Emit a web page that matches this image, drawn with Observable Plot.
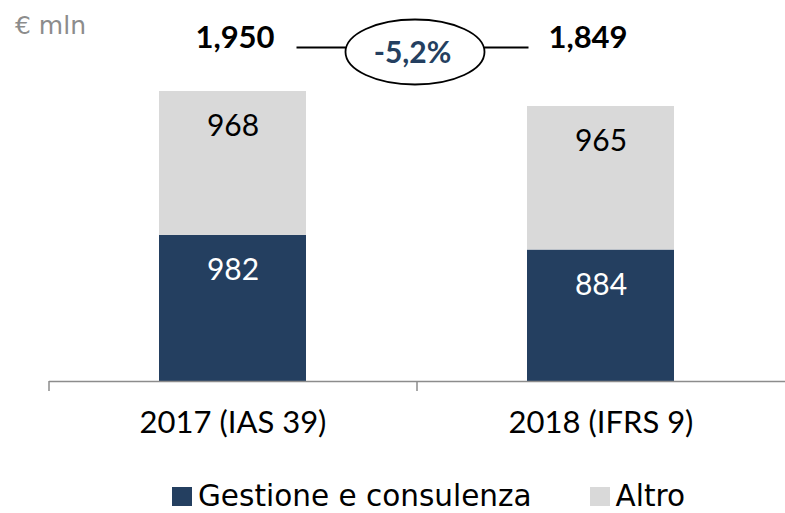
<!DOCTYPE html>
<html>
<head>
<meta charset="utf-8">
<script src="https://cdn.jsdelivr.net/npm/d3@7"></script>
<script src="https://cdn.jsdelivr.net/npm/@observablehq/plot@0.6"></script>
<style>
  html, body { margin: 0; padding: 0; background: #fff; }
  #wrap { position: relative; width: 785px; height: 513px; font-family: Lato, "Open Sans", sans-serif; }
  #unit { position: absolute; left: 15px; top: 13px; font-family: "DejaVu Sans", sans-serif; font-size: 25px; line-height: 26px; color: #8c8c8c; }
  #legend { position: absolute; left: 172px; top: 481px; display: flex; align-items: center; font-family: "DejaVu Sans", sans-serif; font-size: 29.5px; line-height: 30px; color: #000; white-space: nowrap; }
  #legend .sw { width: 20px; height: 19px; display: inline-block; margin-right: 6px; }
  #legend .item { display: flex; align-items: center; }
  #legend .item + .item { margin-left: 58px; }
  #chart svg { overflow: visible; }
</style>
</head>
<body>
<div id="wrap">
  <div id="chart"></div>
  <div id="unit"></div>
  <div id="legend"></div>
</div>
<script>
const categories = ["2017 (IAS 39)", "2018 (IFRS 9)"];
const seriesNames = ["Gestione e consulenza", "Altro"];
const gestione = [982, 884];
const altro = [968, 965];
const totals = [1950, 1849];
const totalLabels = ["1,950", "1,849"];
const changeLabel = "-5,2%";
const unitLabel = "€ mln";
const colors = ["#243F60", "#D9D9D9"];

const rows = [];
categories.forEach((c, i) => {
  rows.push({category: c, series: seriesNames[0], value: gestione[i]});
  rows.push({category: c, series: seriesNames[1], value: altro[i]});
});

const W = 785, H = 450, ML = 49, MR = 0, MT = 91, MB = 69;
const step = (W - ML - MR) / categories.length;

const ellipseSymbol = {
  draw(context) {
    const rx = 69.5, ry = 32.5, k = 0.5523, ly = -4.5;
    context.moveTo(rx, 0);
    context.bezierCurveTo(rx, ry * k, rx * k, ry, 0, ry);
    context.bezierCurveTo(-rx * k, ry, -rx, ry * k, -rx, 0);
    context.bezierCurveTo(-rx, -ry * k, -rx * k, -ry, 0, -ry);
    context.bezierCurveTo(rx * k, -ry, rx, -ry * k, rx, 0);
    context.closePath();
    context.moveTo(-rx - 49, ly);
    context.lineTo(-rx + 0.5, ly);
    context.moveTo(rx - 0.5, ly);
    context.lineTo(rx + 44, ly);
  }
};

const plot = Plot.plot({
  width: W, height: H,
  marginLeft: ML, marginRight: MR, marginTop: MT, marginBottom: MB,
  style: {fontFamily: "Lato, 'Open Sans', sans-serif", background: "white", color: "#000"},
  x: {domain: categories, paddingInner: 0.6, paddingOuter: 0.3, label: null},
  y: {domain: [0, d3.max(totals)], axis: null},
  color: {domain: seriesNames, range: colors},
  marks: [
    Plot.barY(rows, {x: "category", y: "value", fill: "series", order: null}),
    Plot.text(rows, Plot.stackY2({
      x: "category", y: "value", z: "series",
      text: d => String(d.value),
      fill: d => d.series === seriesNames[0] ? "white" : "black",
      dy: 35, fontSize: 30, lineAnchor: "middle"
    })),
    Plot.ruleY([0], {stroke: "#8c8c8c", strokeWidth: 1.5}),
    Plot.ruleX(categories, {x: d => d, dx: -step / 2, y1: 0, y2: 0, insetBottom: -10, stroke: "#8c8c8c", strokeWidth: 1.5}),
    Plot.axisX({tickSize: 0, tickPadding: 29, fontSize: 31, label: null, fill: "#000"}),
    Plot.text([categories[0]], {x: d => d, text: () => totalLabels[0], frameAnchor: "top", dx: 2, dy: -53, lineAnchor: "middle", fontSize: 31, fontWeight: "bold"}),
    Plot.text([categories[1]], {x: d => d, text: () => totalLabels[1], frameAnchor: "top", dx: -13, dy: -53, lineAnchor: "middle", fontSize: 31, fontWeight: "bold"}),
    Plot.dot([changeLabel], {frameAnchor: "top", dx: -2.5, dy: -39.5, symbol: ellipseSymbol, r: 10, stroke: "black", strokeWidth: 1.8, fill: "white"}),
    Plot.text([changeLabel], {frameAnchor: "top", text: d => d, dx: -5, dy: -38, lineAnchor: "middle", fontSize: 30, fontWeight: "bold", fill: colors[0]})
  ]
});
document.getElementById("chart").appendChild(plot);

document.getElementById("unit").textContent = unitLabel;
const legend = document.getElementById("legend");
seriesNames.forEach((s, i) => {
  const item = document.createElement("span");
  item.className = "item";
  const sw = document.createElement("span");
  sw.className = "sw";
  sw.style.background = colors[i];
  const t = document.createElement("span");
  t.textContent = s;
  item.appendChild(sw);
  item.appendChild(t);
  legend.appendChild(item);
});
</script>
</body>
</html>
